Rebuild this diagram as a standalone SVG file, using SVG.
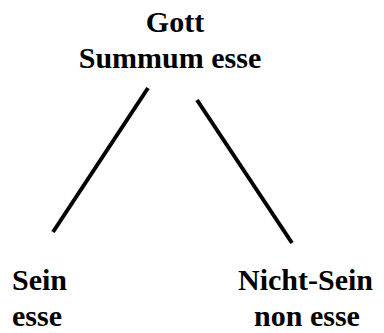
<svg xmlns="http://www.w3.org/2000/svg" width="384" height="333" viewBox="0 0 384 333">
<style>
.t{font-family:'Liberation Serif',Tinos,'Times New Roman',Times,serif;font-weight:700;font-size:30px;fill:#000}
.c{stroke:#000;stroke-width:4;fill:none}
</style>
<rect width="384" height="333" fill="#fff"/>
<g id="connectors">
<line class="c" x1="148" y1="88" x2="53" y2="232"/>
<line class="c" x1="197" y1="100" x2="292" y2="243"/>
</g>
<g id="gott">
<text class="t" x="175" y="32" text-anchor="middle" font-family="Liberation Serif">Gott</text>
<text class="t" x="170" y="68" text-anchor="middle">Summum esse</text>
</g>
<g id="sein">
<text class="t" x="12" y="290">Sein</text>
<text class="t" x="12" y="326">esse</text>
</g>
<g id="nichtsein">
<text class="t" x="305.5" y="290" text-anchor="middle">Nicht-Sein</text>
<text class="t" x="307" y="326" text-anchor="middle">non esse</text>
</g>
</svg>
